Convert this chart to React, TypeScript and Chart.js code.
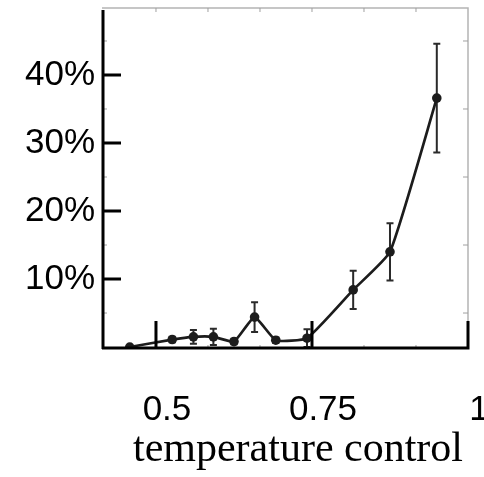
import { useEffect, useRef } from "react";
import { Chart, registerables } from "chart.js";

Chart.register(...registerables);

// ---- data ----
const temperature = [0.458, 0.526, 0.56, 0.592, 0.625, 0.658, 0.692, 0.742, 0.816, 0.875, 0.95];
const rate = [0, 1.1, 1.5, 1.5, 0.8, 4.4, 1.0, 1.3, 8.4, 14.0, 36.6];
const rateErr = [0, 0.4, 1.0, 1.2, 0.4, 2.2, 0.4, 1.3, 2.8, 4.2, 8.0];
const xTickValues = [0.5, 0.75, 1];
const xTickLabels = ["0.5", "0.75", "1"];
const yTickValues = [10, 20, 30, 40];
const xMinorValues = [0.5, 7 / 12, 2 / 3, 0.75, 5 / 6, 11 / 12];
const yMinorValues = [5, 15, 25, 35, 45];
const xAxisTitle = "temperature control";

const errorBarPlugin = {
  id: "errorBars",
  beforeDatasetsDraw(chart: any) {
    const { ctx, scales } = chart;
    const xs = scales.x;
    const ys = scales.y;
    ctx.save();
    ctx.strokeStyle = "#2a2a2a";
    ctx.lineWidth = 2;
    temperature.forEach((t, i) => {
      const e = rateErr[i];
      if (!e) return;
      const px = xs.getPixelForValue(t);
      const top = ys.getPixelForValue(rate[i] + e);
      const bot = ys.getPixelForValue(rate[i] - e);
      ctx.beginPath();
      ctx.moveTo(px, top);
      ctx.lineTo(px, bot);
      ctx.moveTo(px - 3.5, top);
      ctx.lineTo(px + 3.5, top);
      ctx.moveTo(px - 3.5, bot);
      ctx.lineTo(px + 3.5, bot);
      ctx.stroke();
    });
    ctx.restore();
  },
};

const framePlugin = {
  id: "frame",
  afterDraw(chart: any) {
    const { ctx, chartArea: a, scales } = chart;
    const xs = scales.x;
    const ys = scales.y;
    ctx.save();
    // light frame top/right
    ctx.strokeStyle = "#b4b4b4";
    ctx.lineWidth = 1.5;
    ctx.beginPath();
    ctx.moveTo(a.left, a.top);
    ctx.lineTo(a.right, a.top);
    ctx.lineTo(a.right, a.bottom);
    ctx.stroke();
    // minor ticks
    ctx.strokeStyle = "#a0a0a0";
    ctx.lineWidth = 1;
    ctx.beginPath();
    xMinorValues.forEach((v) => {
      const px = xs.getPixelForValue(v);
      ctx.moveTo(px, a.top);
      ctx.lineTo(px, a.top + 4);
      ctx.moveTo(px, a.bottom);
      ctx.lineTo(px, a.bottom - 4);
    });
    yMinorValues.forEach((v) => {
      const py = ys.getPixelForValue(v);
      ctx.moveTo(a.left, py);
      ctx.lineTo(a.left + 5, py);
      ctx.moveTo(a.right, py);
      ctx.lineTo(a.right - 5, py);
    });
    ctx.stroke();
    // black axes
    ctx.strokeStyle = "#000";
    ctx.lineWidth = 3;
    ctx.beginPath();
    ctx.moveTo(a.left + 1, a.top + 2);
    ctx.lineTo(a.left + 1, a.bottom);
    ctx.moveTo(a.left, a.bottom - 1);
    ctx.lineTo(a.right + 1.5, a.bottom - 1);
    xTickValues.forEach((v) => {
      const px = xs.getPixelForValue(v);
      ctx.moveTo(px, a.bottom - 1);
      ctx.lineTo(px, a.bottom - 28);
    });
    yTickValues.forEach((v) => {
      const py = ys.getPixelForValue(v);
      ctx.moveTo(a.left + 1, py);
      ctx.lineTo(a.left + 19, py);
    });
    ctx.stroke();
    // axis title
    ctx.fillStyle = "#000";
    ctx.font = '42px "Liberation Serif", "Times New Roman", serif';
    ctx.textAlign = "center";
    ctx.textBaseline = "alphabetic";
    ctx.fillText(xAxisTitle, (a.left + a.right) / 2 + 13, a.bottom + 112);
    ctx.restore();
  },
};

const zeroPad = (s: any) => {
  s.paddingLeft = 0;
  s.paddingRight = 0;
  s.paddingTop = 0;
  s.paddingBottom = 0;
};

export default function App() {
  const ref = useRef<HTMLCanvasElement | null>(null);
  useEffect(() => {
    if (!ref.current) return;
    const chart = new Chart(ref.current, {
      type: "line",
      data: {
        datasets: [
          {
            data: temperature.map((t, i) => ({ x: t, y: rate[i] })),
            borderColor: "#1c1c1c",
            borderWidth: 2.7,
            pointRadius: 4.8,
            pointBackgroundColor: "#1c1c1c",
            pointBorderWidth: 0,
            tension: 0.15,
          },
        ],
      },
      options: {
        animation: false,
        responsive: false,
        layout: { padding: { top: 8, right: 16, left: 0, bottom: 0 } },
        plugins: { legend: { display: false }, tooltip: { enabled: false } },
        scales: {
          x: {
            type: "linear",
            min: 0.4135,
            max: 1,
            afterBuildTicks: (s: any) => {
              s.ticks = xTickValues.map((v) => ({ value: v }));
            },
            afterFit: (s: any) => {
              s.height = 128;
              zeroPad(s);
            },
            ticks: {
              callback: (v: any) => xTickLabels[xTickValues.indexOf(Number(v))],
              font: { family: '"Liberation Sans", Arial, sans-serif', size: 35 },
              color: "#000",
              padding: 40,
              labelOffset: 11,
              maxRotation: 0,
              autoSkip: false,
            },
            grid: { display: false, drawTicks: false },
            border: { display: false },
            title: { display: false },
          },
          y: {
            type: "linear",
            min: -0.29,
            max: 49.85,
            afterBuildTicks: (s: any) => {
              s.ticks = yTickValues.map((v) => ({ value: v }));
            },
            afterFit: (s: any) => {
              s.width = 102;
              zeroPad(s);
            },
            ticks: {
              callback: (v: any) => `${v}%`,
              font: { family: '"Liberation Sans", Arial, sans-serif', size: 35 },
              color: "#000",
              padding: 7,
            },
            grid: { display: false, drawTicks: false },
            border: { display: false },
          },
        },
      },
      plugins: [errorBarPlugin, framePlugin],
    } as any);
    return () => chart.destroy();
  }, []);
  return (
    <div style={{ position: "fixed", left: 0, top: 0, width: 484, height: 477, background: "#fff" }}>
      <canvas ref={ref} width={484} height={477} style={{ display: "block" }} />
    </div>
  );
}
